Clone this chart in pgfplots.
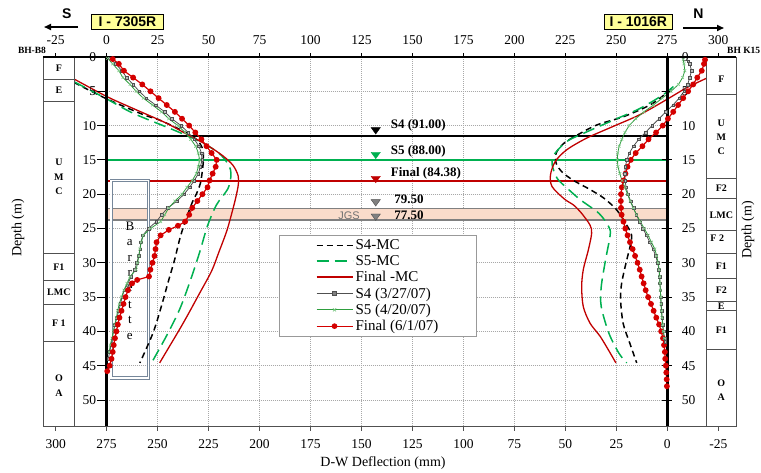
\documentclass[border=0pt]{standalone}
\usepackage{fontspec}
\setmainfont{Liberation Serif}
\setsansfont{Liberation Sans}
\usepackage{pgfplots}
\pgfplotsset{compat=1.18}
\usepackage{pgfplotstable}
\usetikzlibrary{arrows.meta}

\definecolor{mcred}{HTML}{C00000}
\definecolor{msred}{HTML}{D40000}
\definecolor{mcgreen}{HTML}{00B050}
\definecolor{band}{HTML}{FADCCB}
\definecolor{boxyel}{HTML}{FFFF99}
\definecolor{gridc}{HTML}{A8A8A8}
\definecolor{soil}{HTML}{505050}
\definecolor{barr}{HTML}{76879A}
\definecolor{sfour}{HTML}{505050}
\definecolor{sfive}{HTML}{2E9E3E}
\definecolor{sfivem}{HTML}{7CC884}

% ---------- left inclinometer I-7305R (top scale) : d = depth (m), v = deflection (mm)
\pgfplotstableread{
d v
3.7 -16
6.1 0
8.4 18
9.2 26
10.8 37.5
12.0 44
13.3 47
14.8 47.5
16.5 47
18.4 46
20.0 44
21.2 42
24.2 38.3
26.6 35.8
29.5 33.4
32.9 30.1
36.3 26.9
40.2 22.8
44.6 16.3
}\LSfourMC
\pgfplotstableread{
d v
3.6 -16
6.1 0
8.2 13
10.6 32.6
12.3 45.6
14.0 55
15.8 60
17.2 61
19.2 59.5
21.5 54
24.6 49.5
28.5 45.6
32.9 40.7
36.8 35.8
40.7 29.3
44.6 22
}\LSfiveMC
\pgfplotstableread{
d v
3.2 -16
5.75 0
7.5 13
9.6 29
11.2 39
12.8 49
14.4 57
15.8 62
17.3 64.5
18.6 64.6
20.3 63.5
22.1 62
25.3 59
28.5 55
31.2 51.5
34.5 45.5
37.5 40
39.7 35.8
42.2 30.8
44.6 26
}\LFinalMC
\pgfplotstableread{
d v
0.2 1.5
1 4.5
2 7.5
3 9.8
4 13
5 16
6 19.5
7 24
8 28.5
9 32
10 36.5
11 40
12 43
13 45.3
14 46.5
15 46.8
16 46
17 45
18 43
19 40.7
20 38
21 34.5
22 30
23 27
24 24.4
25 20.5
26 17.8
27 16.8
28 16.4
29 15.8
30 14.8
31 13.8
32 12
33 10.5
34 8.6
35 7.6
36 6.8
37 6
38 5
39 4.1
40 3.4
41 2.8
42 2.2
43 1.5
44 0.8
}\LSfour
\pgfplotstableread{
d v
0.2 0.5
1 3
2 6
3 8
4 11.5
5 14.5
6 18
7 22.5
8 27
9 30.5
10 35
11 38.5
12 41.3
13 43.7
14 45
15 45.6
16 45
17 44
18 42
19 39.4
20 37
21 33.5
22 30.5
23 28.5
24 26.5
25 21.5
26 18
27 17
28 16.3
29 15.8
30 15.2
31 14.5
32 11.5
33 10
34 8.5
35 7.3
36 6.2
37 5.4
38 4.8
39 4
40 3.3
41 2.6
42 1.8
43 1.3
}\LSfive
\pgfplotstableread{
d v
0.3 3
1 6
2 8.5
3 13
4 17.5
5 21.5
6 25.5
7 29.5
8 33.5
9 37
10 40.5
11 43.5
12 46.5
13 49
14 51.5
15 54
16 53.5
17 52
18 50.5
19 49.5
20 47
21 44.5
22 42
23 40.5
24 38.5
24.6 35
25.2 30.5
26 26.5
27 24.5
28 24
29 23.5
30 22.5
31 21.5
32 20.8
32.5 15
33 12.5
34 10.5
35 9.3
36 8.3
37 7.3
38 6.3
39 5.5
40 4.8
41 4.1
42 3.5
43 3
44 2.4
45 1.5
45.8 0.3
}\LFinal

% ---------- right inclinometer I-1016R (bottom scale) : d = depth (m), b = deflection (mm)
\pgfplotstableread{
d b
4.6 -2
5.4 1
7.0 8.5
8.7 21.5
9.9 34.5
11.4 44.3
12.6 50.8
14.0 54.5
15.5 54.5
16.8 51.5
18.0 46
19.3 38
20.6 31
22.3 24.8
24.5 19.9
26.0 17.5
27.7 18.3
29.6 19.9
33.0 22.4
35.5 22.9
38.9 21.6
41.8 18.3
44.6 15
}\RSfourMC
\pgfplotstableread{
d b
4.3 -3
5.5 2
7.5 13.4
9.2 26.4
10.9 39.4
12.3 49.2
14.3 55.7
15.7 56.5
17.7 54
19.1 49.2
20.8 42.7
22.8 33.5
24.7 28.8
25.9 28.0
29.6 30.3
33.5 32.4
36.4 32.4
40.3 28.6
43.2 23.7
44.6 19.9
}\RSfiveMC
\pgfplotstableread{
d b
3.1 -19.2
4.5 -9.4
6.2 0.3
8.4 13.4
10.1 26.4
11.8 39.4
13.5 49.2
15.2 54.9
17.2 57.3
18.9 56.5
20.7 50.5
21.6 45.9
22.8 42
24.5 37.9
25.7 37.1
28.1 38.7
31.0 41.2
33.5 42
36.4 41.2
38.8 37.9
40.7 33
42.7 28.9
44.6 25.2
}\RFinalMC
\pgfplotstableread{
d b
0.6 -10.3
1 -11
2 -11.9
3 -11
4 -10
5 -8.2
6 -5.8
7 -2.8
8 0.8
9 4
10 7.5
11 10.7
12 14
13 16.6
14 18.6
15 19.8
16 20.6
17 20.8
18 20.7
19 20.2
20 19.3
21 18
22 16.6
23 15.2
24 13.5
25 12
26 10.2
27 8.6
28 7
29 5.7
30 4.7
31 4.1
32 3.8
33 3.6
34 3.4
35 3.2
36 3
37 2.8
38 2.5
39 2.2
40 1.9
41 1.3
41.5 1
}\RSfour
\pgfplotstableread{
d b
0.4 -7.8
1 -8.2
2 -8.6
3 -7.5
4 -5.5
5 -1.8
6 2.5
7 6.8
8 11.5
9 15.5
10 18.7
11 20.8
12 22.3
13 23.6
14 24.3
15 24.5
16 24.2
17 23.3
18 22.2
19 20.8
20 19.5
21 18.2
22 16.7
23 15.1
24 13.2
25 11.3
26 9.4
27 7.8
28 6.1
29 5.2
30 4.5
31 4
32 3.7
33 3.6
34 3.4
35 3.2
36 3.1
37 2.9
38 2.6
39 2.3
40 2
41 1.5
}\RSfive
\pgfplotstableread{
d b
0.4 -18.5
1 -18
2 -16.9
3 -14.7
4 -12.7
5 -10.2
6 -7.8
7 -5.3
8 -2.9
9 -0.3
10 2.2
11 5.5
12 9.2
13 12.2
14 15.5
15 17.9
16 19.5
17 20.5
18 21.5
19 22.3
20 22.7
21 22.8
22 22.7
23 22.4
24 21.5
25 20.6
26 19.5
27 18.3
28 17
29 15.8
30 14.6
31 13.5
32 12.6
33 11.6
34 10.6
35 9.4
36 8
37 6.7
38 5.4
39 4
40 3
41 2.1
42 1.6
43 1.2
44 1
45 0.7
46 0.5
47 0.3
48 0.2
}\RFinal

\begin{document}
\begin{tikzpicture}
\begin{axis}[
  at={(43pt,-426.7pt)}, anchor=south west,
  scale only axis, width=693pt, height=369.7pt,
  xmin=-31.2, xmax=308.7, ymin=0, ymax=53.9, y dir=reverse,
  clip=false,
  axis line style={draw=none},
  xtick={-25,0,...,300},
  xticklabel pos=upper, xtick pos=upper,
  tick align=outside, major tick length=4pt,
  ytick=\empty,
  tick style={black, line width=0.6pt},
  xticklabel style={font=\fontsize{13.5}{15}\selectfont, yshift=5pt},
  /pgf/number format/assume math mode=true,
  legend cell align=left,
  legend style={at={(0.341,0.5185)}, anchor=north west, draw=gray!80, line width=0.8pt,
    fill=white, font=\fontsize{15}{16}\selectfont, inner xsep=36pt, inner ysep=2pt,
    row sep=0pt, nodes={inner sep=2.2pt}},
  legend image code/.code={\draw[mark repeat=2,mark phase=2,#1] plot coordinates {(0pt,0pt) (18pt,0pt) (36pt,0pt)};},
]
% legend
\addlegendimage{draw=black, line width=1.5pt, dash pattern=on 6pt off 4pt}\addlegendentry{S4-MC}
\addlegendimage{draw=mcgreen, line width=1.5pt, dash pattern=on 12pt off 6pt}\addlegendentry{S5-MC}
\addlegendimage{draw=mcred, color=mcred, line width=1.6pt, solid}\addlegendentry{Final -MC}
\addlegendimage{draw=sfour, line width=1pt, mark=square*, mark size=1.6pt, mark options={draw=sfour, fill=gray, solid}}\addlegendentry{S4 (3/27/07)}
\addlegendimage{draw=sfive, color=sfive, line width=1pt, mark=x, mark size=2.2pt, mark options={draw=sfivem, line width=0.7pt, solid}}\addlegendentry{S5 (4/20/07)}
\addlegendimage{draw=msred, line width=1pt, mark=*, mark size=2.3pt, mark options={draw=msred, fill=msred, solid}}\addlegendentry{Final (6/1/07)}
% grid
\pgfplotsinvokeforeach{25,50,...,250}{\draw[gridc, line width=0.6pt, dash pattern=on 1pt off 1pt] (axis cs:#1,0) -- (axis cs:#1,53.9);}
\pgfplotsinvokeforeach{5,10,...,50}{\draw[gridc, line width=0.6pt, dash pattern=on 1pt off 1pt] (axis cs:0,#1) -- (axis cs:275,#1);}
% band and reference levels
\addplot[draw=none, fill=band, forget plot] coordinates {(0,22.05) (275,22.05) (275,23.75) (0,23.75)} -- cycle;
\addplot[gray, line width=1.2pt, forget plot] coordinates {(0,22.05) (275,22.05)};
\addplot[gray, line width=1.2pt, forget plot] coordinates {(0,23.75) (275,23.75)};
\addplot[black, line width=2pt, forget plot] coordinates {(0,11.45) (275,11.45)};
\addplot[mcgreen, line width=2.5pt, forget plot] coordinates {(0,15.05) (275,15.05)};
\addplot[mcred, line width=2pt, forget plot] coordinates {(0,18.07) (275,18.07)};
% barrette
\draw[barr, double=white, double distance=1.5pt, line width=0.8pt] (axis cs:2.2,18.0) rectangle (axis cs:20.6,46.8);
\pgfplotsextra{
\foreach \l/\dd in {B/24.7,a/27.1,r/29.3,r/31.5,e/33.7,t/36.1,t/38.4,e/40.8}{
  \node[font=\fontsize{13}{13}\selectfont, inner sep=0pt] at (axis cs:11.4,\dd) {\l};}
}
% left curves
\addplot[draw=black, line width=1.5pt, dash pattern=on 6pt off 4pt, smooth, tension=0.5, forget plot] table[x=v, y=d] {\LSfourMC};
\addplot[draw=mcgreen, line width=1.5pt, dash pattern=on 12pt off 6pt, smooth, tension=0.5, forget plot] table[x=v, y=d] {\LSfiveMC};
\addplot[draw=mcred, line width=1.3pt, smooth, tension=0.5, forget plot] table[x=v, y=d] {\LFinalMC};
\addplot[draw=sfour, line width=0.8pt, mark=square*, mark size=1.3pt, mark options={draw=sfour, fill=gray!55, line width=0.4pt}, forget plot] table[x=v, y=d] {\LSfour};
\addplot[draw=sfive, line width=0.8pt, mark=x, mark size=2pt, mark options={draw=sfivem, line width=0.6pt}, forget plot] table[x=v, y=d] {\LSfive};
\addplot[draw=msred, line width=1.2pt, mark=*, mark size=2.3pt, mark options={draw=msred, fill=msred}, forget plot] table[x=v, y=d] {\LFinal};
% right curves
\addplot[draw=black, line width=1.5pt, dash pattern=on 6pt off 4pt, smooth, tension=0.5, forget plot] table[x expr=275-\thisrow{b}, y=d] {\RSfourMC};
\addplot[draw=mcgreen, line width=1.5pt, dash pattern=on 12pt off 6pt, smooth, tension=0.5, forget plot] table[x expr=275-\thisrow{b}, y=d] {\RSfiveMC};
\addplot[draw=mcred, line width=1.3pt, smooth, tension=0.5, forget plot] table[x expr=275-\thisrow{b}, y=d] {\RFinalMC};
\addplot[draw=msred, line width=1.2pt, mark=*, mark size=2.3pt, mark options={draw=msred, fill=msred}, forget plot] table[x expr=275-\thisrow{b}, y=d] {\RFinal};
\addplot[draw=sfour, line width=0.8pt, mark=square*, mark size=1.3pt, mark options={draw=sfour, fill=gray!55, line width=0.4pt}, forget plot] table[x expr=275-\thisrow{b}, y=d] {\RSfour};
\addplot[draw=sfive, line width=0.8pt, mark=x, mark size=2pt, mark options={draw=sfivem, line width=0.6pt}, forget plot] table[x expr=275-\thisrow{b}, y=d] {\RSfive};
% level markers
\addplot[only marks, mark=triangle*, mark size=4.3pt, mark options={rotate=180, xscale=1.25, fill=black, draw=black}, forget plot] coordinates {(132,10.6)};
\addplot[only marks, mark=triangle*, mark size=4.3pt, mark options={rotate=180, xscale=1.25, fill=mcgreen, draw=mcgreen}, forget plot] coordinates {(132,14.2)};
\addplot[only marks, mark=triangle*, mark size=4.3pt, mark options={rotate=180, xscale=1.25, fill=mcred, draw=mcred}, forget plot] coordinates {(132,17.7)};
\addplot[only marks, mark=triangle*, mark size=4.3pt, mark options={rotate=180, xscale=1.25, fill=gray, draw=black!70}, forget plot] coordinates {(132,21.1) (132,23.2)};
\begin{scope}[every node/.style={font=\bfseries\fontsize{13}{13}\selectfont, anchor=west, inner sep=0pt}]
\node at (axis cs:139.3,10.0) {S4 (91.00)};
\node at (axis cs:139.3,13.8) {S5 (88.00)};
\node at (axis cs:139.3,16.9) {Final (84.38)};
\node at (axis cs:141,20.8) {79.50};
\node at (axis cs:141,23.1) {77.50};
\end{scope}
\node[font=\sffamily\fontsize{11}{11}\selectfont, text=gray!90!black, inner sep=0pt] at (axis cs:118.9,23.2) {JGS};
% soil columns
\pgfplotsextra{
\begin{scope}[soil, line width=0.8pt]
\foreach \a/\b in {0/3.2,3.2/6.4,6.4/28.7,28.7/32.5,32.5/36.1,36.1/41.5,41.5/53.9}{
  \draw[fill=white] (axis cs:-31.2,\a) rectangle (axis cs:-15.6,\b);}
\foreach \a/\b in {0/5.5,5.5/17.7,17.7/20.6,20.6/25.3,25.3/28.7,28.7/32.3,32.3/35.6,35.6/37.0,37.0/42.6,42.6/53.9}{
  \draw[fill=white] (axis cs:294.3,\a) rectangle (axis cs:308.7,\b);}
\end{scope}
}
\begin{scope}[every node/.style={font=\bfseries\fontsize{10}{10}\selectfont, inner sep=0pt}]
\node at (axis cs:-23.4,1.7) {F};
\node at (axis cs:-23.4,4.8) {E};
\node at (axis cs:-23.4,15.4) {U};
\node at (axis cs:-23.4,17.5) {M};
\node at (axis cs:-23.4,19.6) {C};
\node at (axis cs:-23.4,30.6) {F1};
\node at (axis cs:-23.4,34.3) {LMC};
\node at (axis cs:-23.4,38.8) {F 1};
\node at (axis cs:-23.4,46.8) {O};
\node at (axis cs:-23.4,49.0) {A};
\node at (axis cs:301.5,3.2) {F};
\node at (axis cs:301.5,9.65) {U};
\node at (axis cs:301.5,11.7) {M};
\node at (axis cs:301.5,13.7) {C};
\node at (axis cs:301.5,19.1) {F2};
\node at (axis cs:301.5,23.0) {LMC};
\node at (axis cs:299.5,26.4) {F 2};
\node at (axis cs:301.5,30.5) {F1};
\node at (axis cs:301.5,34.0) {F2};
\node at (axis cs:301.5,36.3) {E};
\node at (axis cs:301.5,39.9) {F1};
\node at (axis cs:301.5,47.6) {O};
\node at (axis cs:301.5,49.6) {A};
\end{scope}
% frame lines
\draw[black, line width=3.5pt] (axis cs:0,0) -- (axis cs:0,53.9);
\draw[black, line width=3.5pt] (axis cs:275,0) -- (axis cs:275,53.9);
\draw[black, line width=2pt] (axis cs:-31.2,0) -- (axis cs:308.7,0);
\draw[soil, line width=1.2pt] (axis cs:-31.2,53.9) -- (axis cs:308.7,53.9);
% depth ticks and labels
\pgfplotsinvokeforeach{0,5,...,50}{
  \draw[black, line width=0.8pt] (axis cs:-4.5,#1) -- (axis cs:0,#1);
  \draw[black, line width=0.8pt] (axis cs:272.5,#1) -- (axis cs:277.5,#1);
  \node[anchor=east, inner sep=0pt, font=\fontsize{13.5}{15}\selectfont] at (axis cs:-5,#1) {#1};
  \node[anchor=west, inner sep=0pt, font=\fontsize{13.5}{15}\selectfont] at (axis cs:282,#1) {#1};
}
\end{axis}
\begin{axis}[
  at={(43pt,-426.7pt)}, anchor=south west,
  scale only axis, width=693pt, height=369.7pt,
  xmin=-31.2, xmax=308.7, ymin=0, ymax=53.9, y dir=reverse,
  axis line style={draw=none},
  xtick={-25,0,...,300},
  xticklabels={300,275,250,225,200,175,150,125,100,75,50,25,0,-25},
  xticklabel pos=lower, xtick pos=lower,
  tick align=outside, major tick length=4pt,
  ytick=\empty,
  tick style={soil, line width=0.6pt},
  xticklabel style={font=\fontsize{13.5}{15}\selectfont, yshift=-5pt},
]
\addplot[draw=none] coordinates {(0,0)};
\end{axis}
% outside annotations
\node[font=\sffamily\bfseries\fontsize{14}{14}\selectfont] at (66.7pt,-14pt) {S};
\draw[-{Triangle[length=7pt,width=6pt]}, line width=1.6pt] (78pt,-27pt) -- (44pt,-27pt);
\node[draw=black, fill=boxyel, line width=0.8pt, font=\sffamily\bfseries\fontsize{14}{14}\selectfont, minimum width=72pt, minimum height=15.3pt, inner sep=0pt] at (127.5pt,-21.7pt) {I - 7305R};
\node[font=\sffamily\bfseries\fontsize{14}{14}\selectfont] at (698.3pt,-14pt) {N};
\draw[-{Triangle[length=7pt,width=6pt]}, line width=1.6pt] (683pt,-28pt) -- (724pt,-28pt);
\node[draw=black, fill=boxyel, line width=0.8pt, font=\sffamily\bfseries\fontsize{14}{14}\selectfont, minimum width=68.7pt, minimum height=15.3pt, inner sep=0pt] at (638.3pt,-21.7pt) {I - 1016R};
\node[font=\bfseries\fontsize{9.5}{10}\selectfont, inner sep=0pt] at (32pt,-50pt) {BH-B8};
\node[font=\bfseries\fontsize{9.5}{10}\selectfont, inner sep=0pt, anchor=west] at (727pt,-50pt) {BH K15};
\node[rotate=90, font=\fontsize{14}{15}\selectfont] at (18pt,-228pt) {Depth (m)};
\node[rotate=90, font=\fontsize{14}{15}\selectfont] at (748pt,-230pt) {Depth (m)};
\node[font=\fontsize{14}{15}\selectfont] at (383pt,-463pt) {D-W Deflection (mm)};
\pgfresetboundingbox
\path[use as bounding box] (0pt,0pt) rectangle (761pt,-472pt);
\end{tikzpicture}
\end{document}
